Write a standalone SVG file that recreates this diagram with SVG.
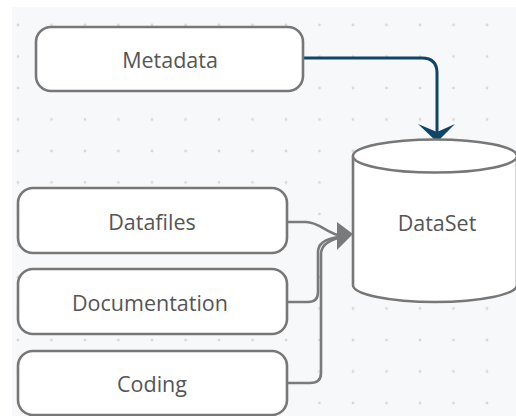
<svg xmlns="http://www.w3.org/2000/svg" width="516" height="416" viewBox="0 0 516 416">
<defs>
<pattern id="dots" x="0" y="0" width="33.5" height="31.5" patternUnits="userSpaceOnUse" patternTransform="translate(1.25,9.25)">
<circle cx="16.75" cy="15.75" r="1.4" fill="#d6d8dc"/>
</pattern>
<style>
.box{fill:#ffffff;stroke:#777777;stroke-width:2.6}
.lbl{font-family:"Open Sans","Noto Sans",sans-serif;font-size:21.5px;fill:#555555;text-anchor:middle;dominant-baseline:central}
.gl{fill:none;stroke:#7a7a7a;stroke-width:2.6}
</style>
</defs>
<rect width="516" height="416" fill="#ffffff"/>
<rect x="12" y="7" width="504" height="409" fill="#f7f8fa"/>
<rect x="12" y="7" width="504" height="409" fill="url(#dots)"/>
<g id="connectors">
<path d="M303 58 H422 Q437 58 437 73 V133" fill="none" stroke="#0f4566" stroke-width="3"/>
<polygon points="418,124 437,132 455,124 437,142" fill="#0f4566"/>
<path class="gl" d="M287 222 H306 C318 222 326 232 338 235"/>
<path class="gl" d="M287 302 H308 Q318 302 318 292 V252 Q318 240 338 237"/>
<path class="gl" d="M287 383 H310 Q321 383 321 373 V254 Q321 243 338 238"/>
<polygon points="337,222 353,234 337,250" fill="#7a7a7a"/>
</g>
<g id="metadata">
<rect class="box" x="36" y="27" width="267" height="64" rx="15"/>
<text class="lbl" x="170" y="59">Metadata</text>
</g>
<g id="datafiles">
<rect class="box" x="18" y="188" width="269" height="65" rx="15"/>
<text class="lbl" x="152" y="221">Datafiles</text>
</g>
<g id="documentation">
<rect class="box" x="18" y="269" width="269" height="65" rx="15"/>
<text class="lbl" x="150" y="302">Documentation</text>
</g>
<g id="coding">
<rect class="box" x="18" y="351" width="269" height="64" rx="15"/>
<text class="lbl" x="152" y="383">Coding</text>
</g>
<g id="dataset">
<path class="box" d="M353 156 V285 A82 17 0 0 0 517 285 V156"/>
<ellipse class="box" cx="435" cy="156" rx="82" ry="16.5"/>
<text class="lbl" x="437" y="222">DataSet</text>
</g>
</svg>
